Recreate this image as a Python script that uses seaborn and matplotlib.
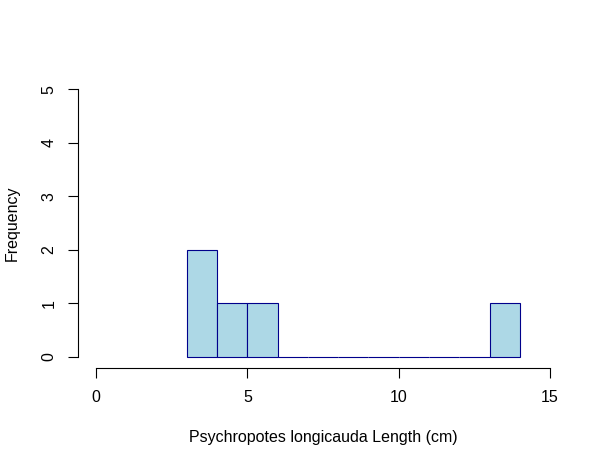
import matplotlib
matplotlib.use("Agg")
import matplotlib.pyplot as plt
import seaborn as sns

# histogram bins
bin_edges = [3, 4, 5, 6, 7, 8, 9, 10, 11, 12, 13, 14]
bin_counts = [2, 1, 1, 0, 0, 0, 0, 0, 0, 0, 1]
x_ticks = [0, 5, 10, 15]
y_ticks = [0, 1, 2, 3, 4, 5]
x_label = "Psychropotes longicauda Length (cm)"
y_label = "Frequency"

sns.set_theme(style="white")
plt.rcParams["font.family"] = ["Liberation Sans", "DejaVu Sans"]

bin_mids = [(a + b) / 2 for a, b in zip(bin_edges[:-1], bin_edges[1:])]

fig = plt.figure(figsize=(6.09, 4.66), dpi=100)
ax = fig.add_axes([0.1278, 0.2109, 0.8053, 0.6204])

sns.histplot(x=bin_mids, weights=bin_counts, bins=bin_edges, stat="count",
             color="lightblue", edgecolor="darkblue", linewidth=0.8, alpha=1, ax=ax)

ax.set_xlim(-0.6, 15.6)
ax.set_ylim(-0.2, 5.2)
ax.set_xticks(x_ticks)
ax.set_yticks(y_ticks)
ax.set_yticklabels([str(v) for v in y_ticks], rotation=90, va="center")

for side in ["top", "right"]:
    ax.spines[side].set_visible(False)
ax.spines["left"].set_bounds(y_ticks[0], y_ticks[-1])
ax.spines["bottom"].set_bounds(x_ticks[0], x_ticks[-1])
for side in ["left", "bottom"]:
    ax.spines[side].set_color("black")
    ax.spines[side].set_linewidth(0.8)

ax.tick_params(axis="both", direction="out", length=7.2, width=0.8, color="black",
               labelsize=11.5, labelcolor="black", left=True, bottom=True)
ax.tick_params(axis="x", pad=9)
ax.tick_params(axis="y", pad=8)
ax.grid(False)

ax.set_xlabel(x_label, fontsize=11.5, color="black")
ax.set_ylabel(y_label, fontsize=11.5, color="black")
ax.xaxis.set_label_coords(0.5, -0.215)
ax.yaxis.set_label_coords(-0.118, 0.5)

fig.savefig("out.png", dpi=100)
